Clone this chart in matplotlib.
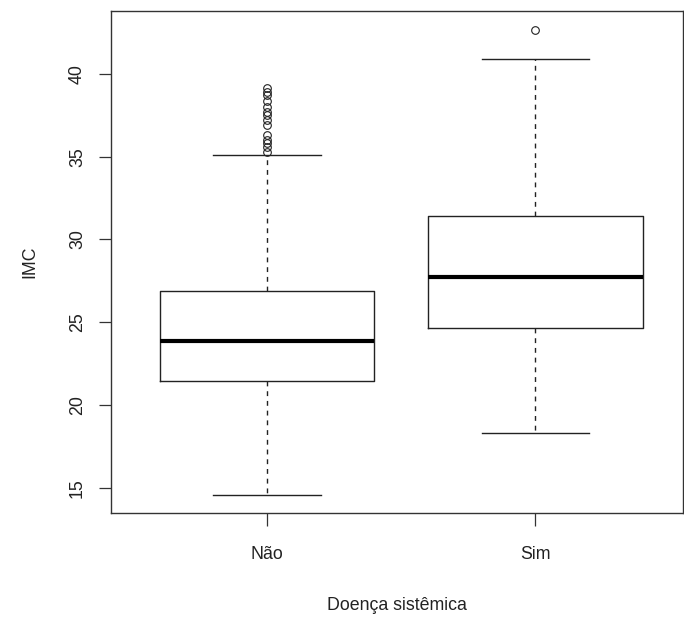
import matplotlib
matplotlib.use("Agg")
import matplotlib.pyplot as plt

plt.rcParams['font.family'] = ['Liberation Sans', 'DejaVu Sans']

categories = ["Não", "Sim"]
q1 = [21.45, 24.67]
median = [23.85, 27.72]
q3 = [26.91, 31.44]
whislo = [14.56, 18.33]
whishi = [35.1, 40.9]
fliers = [
    [39.14, 38.93, 38.73, 38.37, 38.02, 37.72, 37.52, 37.22, 36.92,
     36.31, 36.01, 35.83, 35.61, 35.31],
    [42.66],
]
yticks = [15, 20, 25, 30, 35, 40]

stats = []
for i, c in enumerate(categories):
    stats.append(dict(label=c, q1=q1[i], med=median[i], q3=q3[i],
                      whislo=whislo[i], whishi=whishi[i], fliers=fliers[i]))

fig = plt.figure(figsize=(6.84, 6.19), dpi=100)
ax = fig.add_axes([111/684, 1 - 513/619, (683-111)/684, (513-11)/619])

lw = 1.0
ax.bxp(stats, positions=[1, 2], widths=0.8,
       boxprops=dict(color='#222222', linewidth=lw),
       medianprops=dict(color='black', linewidth=3.0, solid_capstyle='butt'),
       whiskerprops=dict(color='#222222', linewidth=lw, linestyle=(0, (3.5, 3.5))),
       capprops=dict(color='#222222', linewidth=lw),
       flierprops=dict(marker='o', markersize=5.5, markerfacecolor='none',
                       markeredgecolor='#222222', markeredgewidth=0.8),
       capwidths=0.4)

ax.set_xlim(0.418, 2.55)
ax.set_ylim(13.47, 43.81)
ax.set_yticks(yticks)
ax.set_yticklabels([str(t) for t in yticks], rotation=90, va='center')
ax.set_xticks([1, 2])
ax.set_xticklabels(categories)

for s in ['right', 'top', 'left', 'bottom']:
    ax.spines[s].set_color('#333333')
    ax.spines[s].set_linewidth(1.0)

ax.tick_params(axis='both', length=9, width=0.9, color='#333333',
               labelsize=12.8, labelcolor='#222222')
ax.tick_params(axis='y', pad=9)
ax.tick_params(axis='x', pad=15)

ax.set_xlabel("Doença sistêmica", fontsize=12.8, color='#222222', labelpad=24)
ax.set_ylabel("IMC", fontsize=12.8, color='#222222', labelpad=22)

fig.savefig("out.png", dpi=100)
